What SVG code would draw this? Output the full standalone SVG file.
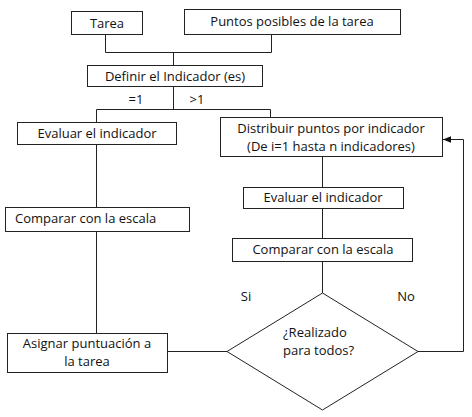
<svg xmlns="http://www.w3.org/2000/svg" width="472" height="417" viewBox="0 0 472 417">
<defs>
<style>
.box{fill:#fff;stroke:#222;stroke-width:1}
.ln{fill:none;stroke:#222;stroke-width:1}
text{font-family:"Open Sans","Liberation Sans",sans-serif;font-size:13px;fill:#111;text-anchor:middle}
.l{text-anchor:start}
</style>
<marker id="ah" viewBox="0 0 10 10" refX="10" refY="5" markerWidth="8" markerHeight="8" orient="auto" markerUnits="userSpaceOnUse">
<path d="M0,1 L10,5 L0,9 Z" fill="#111"/>
</marker>
</defs>
<rect width="472" height="417" fill="#fff"/>
<g id="connectors">
<path class="ln" d="M105.5,34 V52.5 H271.5 V34"/>
<path class="ln" d="M173.5,52.5 V65"/>
<path class="ln" d="M173.5,86 V109.5"/>
<path class="ln" d="M96.5,123 V109.5 H270.5 V117"/>
<path class="ln" d="M96.5,144 V207"/>
<path class="ln" d="M96.5,231 V333"/>
<path class="ln" d="M322.5,156 V187"/>
<path class="ln" d="M322.5,208 V238"/>
<path class="ln" d="M322.5,261 V293"/>
<path class="ln" d="M167,351.5 H227"/>
<path class="ln" d="M418,351.5 H463.5 V139.5 H443" marker-end="url(#ah)"/>
<text x="136" y="104">=1</text>
<text x="197" y="104">&gt;1</text>
<text x="246" y="301">Si</text>
<text x="406" y="301">No</text>
</g>
<g id="tarea">
<rect class="box" x="71.5" y="11.5" width="71" height="23"/>
<text x="107" y="27.5">Tarea</text>
</g>
<g id="puntos">
<rect class="box" x="184.5" y="9.5" width="216" height="25"/>
<text x="292" y="25.5">Puntos posibles de la tarea</text>
</g>
<g id="definir">
<rect class="box" x="87.5" y="65.5" width="175" height="21"/>
<text x="175" y="80.5">Definir el Indicador (es)</text>
</g>
<g id="evaluar1">
<rect class="box" x="17.5" y="122.5" width="159" height="22"/>
<text x="97" y="138">Evaluar el indicador</text>
</g>
<g id="distribuir">
<rect class="box" x="220.5" y="117.5" width="222" height="39"/>
<text x="331" y="132.5">Distribuir puntos por indicador</text>
<text x="331" y="150.5">(De i=1 hasta n indicadores)</text>
</g>
<g id="comparar1">
<rect class="box" x="5.5" y="207.5" width="184" height="24"/>
<text class="l" x="15" y="223">Comparar con la escala</text>
</g>
<g id="evaluar2">
<rect class="box" x="243.5" y="187.5" width="160" height="21"/>
<text x="323" y="202">Evaluar el indicador</text>
</g>
<g id="comparar2">
<rect class="box" x="232.5" y="238.5" width="180" height="23"/>
<text x="323" y="254">Comparar con la escala</text>
</g>
<g id="asignar">
<rect class="box" x="7.5" y="333.5" width="160" height="39"/>
<text x="87" y="347.5">Asignar puntuación a</text>
<text x="87" y="365.5">la tarea</text>
</g>
<g id="decision">
<path class="box" d="M322.5,293 L418,351.5 L322.5,410 L227,351.5 Z"/>
<text class="l" x="283" y="336.5">¿Realizado</text>
<text class="l" x="283" y="354.5">para todos?</text>
</g>
</svg>
